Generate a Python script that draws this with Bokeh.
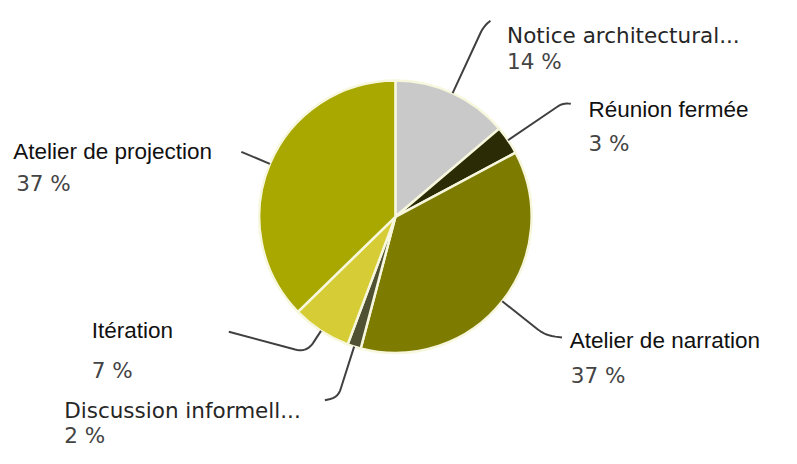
import numpy as np
from bokeh.plotting import figure
from bokeh.models import ColumnDataSource, Range1d
from bokeh.core.properties import value
from bokeh.embed import file_html
from bokeh.resources import INLINE

# ---- data ----
categories = ["Notice architectural...", "Réunion fermée", "Atelier de narration",
              "Discussion informell...", "Itération", "Atelier de projection"]
shares = [13.8, 3.4, 36.9, 1.6, 7.0, 37.3]
colors = ["#c9c9c9", "#2b2b06", "#7d7b00", "#505032", "#d6cd36", "#a9a800"]

# ---- layout (reference pixel coords 797x464: x right, y down) ----
W, H = 781, 448
RW, RH = 797, 464
SX, SY = W / RW, H / RH
CX, CY, R = 403, 224, 139
R_PX = R * SX
layout = [
    dict(L=74, end=(500, 21), rc=8, lab=(517, 36), pct=(517, 63), font="DejaVu Sans", size="21.5px", col="#262626"),
    dict(L=66, end=(582, 107), rc=6, lab=(600, 113), pct=(600, 148), font="Liberation Sans", size="22.5px", col="#111111"),
    dict(L=55, end=(573, 349), rc=10, lab=(581, 352), pct=(582, 388), font="Liberation Sans", size="22.5px", col="#111111"),
    dict(L=53, end=(331, 414), rc=8, lab=(65, 425), pct=(65, 451), font="DejaVu Sans", size="21.5px", col="#262626"),
    dict(L=26, end=(233, 343), rc=12, lab=(93, 342), pct=(93, 383), font="Liberation Sans", size="22.5px", col="#111111"),
    dict(L=31, end=(246, 157), rc=0, lab=(13, 156), pct=(16, 190), font="Liberation Sans", size="22.5px", col="#111111"),
]


def Y(y):
    return RH - y


p = figure(width=W, height=H, output_backend="svg", toolbar_location=None,
           x_range=Range1d(0, RW), y_range=Range1d(0, RH),
           min_border=0, min_border_left=0, min_border_right=0,
           min_border_top=0, min_border_bottom=0)
p.axis.visible = False
p.grid.visible = False
p.outline_line_color = None
p.background_fill_color = "white"
p.border_fill_color = "white"

vals = np.array(shares, dtype=float)
frac = vals / vals.sum()
c1 = np.cumsum(frac)
c0 = c1 - frac
start = np.pi / 2 - 2 * np.pi * c1
end = np.pi / 2 - 2 * np.pi * c0

src = ColumnDataSource(dict(x=[CX] * len(vals), y=[Y(CY)] * len(vals),
                            start=start, end=end, color=colors))
p.wedge(x="x", y="y", radius=R, start_angle="start", end_angle="end",
        fill_color="color", line_color="#f7f7de", line_width=2.5, source=src)

# leader lines (computed in screen pixels, converted back to reference coords)
mid = (c0 + c1) / 2
for i, lay in enumerate(layout):
    ang = 2 * np.pi * mid[i]  # clockwise from top
    d = np.array([np.sin(ang), -np.cos(ang)])
    Cs = np.array([CX * SX, CY * SY])
    S = Cs + R_PX * d
    C = S + lay["L"] * d
    E = np.array(lay["end"], dtype=float) * np.array([SX, SY])
    pts = [S]
    v = E - C
    n = np.linalg.norm(v)
    rc = min(lay["rc"], n * 0.9, lay["L"] * 0.9)
    if n > 0.5 and rc > 0:
        A = C - rc * d
        B = C + rc * v / n
        pts.append(A)
        for tt in np.linspace(0, 1, 12)[1:]:
            pts.append((1 - tt) ** 2 * A + 2 * (1 - tt) * tt * C + tt ** 2 * B)
        pts.append(E)
    else:
        pts.append(C)
    pts = np.array(pts)
    p.line(pts[:, 0] / SX, Y(pts[:, 1] / SY), line_color="#404040", line_width=2)

# labels
for i, lay in enumerate(layout):
    p.text(x=[lay["lab"][0]], y=[Y(lay["lab"][1])], text=[categories[i]],
           text_font=value(lay["font"]), text_font_size=lay["size"],
           text_color=lay["col"], text_align="left", text_baseline="alphabetic")
    p.text(x=[lay["pct"][0]], y=[Y(lay["pct"][1])], text=[f"{round(shares[i])} %"],
           text_font=value("DejaVu Sans"), text_font_size="21.5px",
           text_color="#444444", text_align="left", text_baseline="alphabetic")

open("out.html", "w").write(file_html(p, INLINE))
